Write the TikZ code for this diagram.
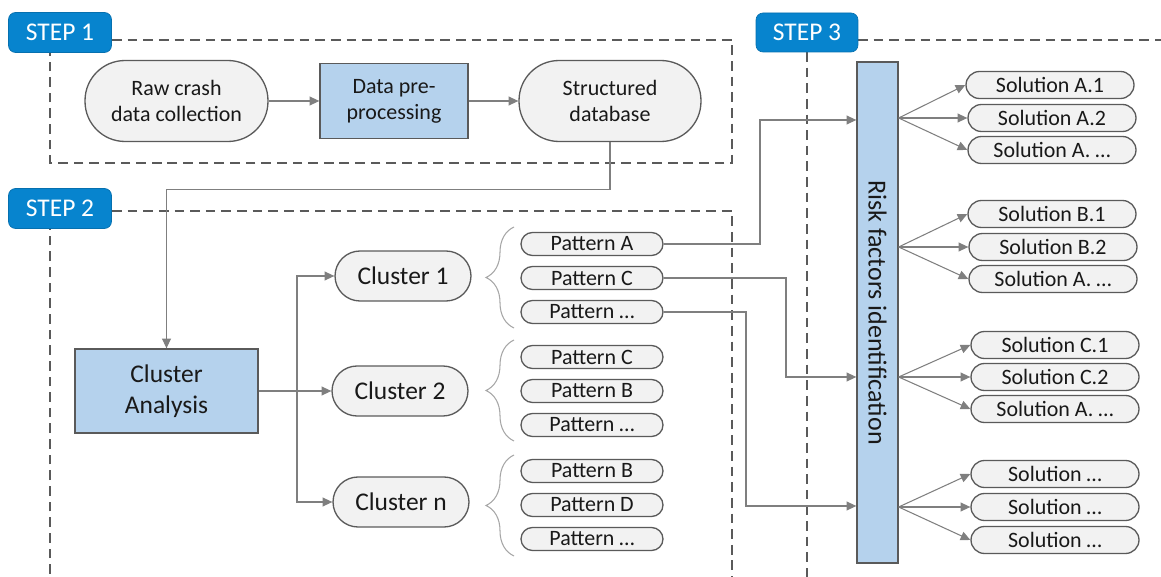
\documentclass[tikz,border=0pt]{standalone}
\usepackage{fontspec}
\setmainfont{Carlito}
\usetikzlibrary{arrows.meta, decorations.pathreplacing}
\definecolor{stepblue}{HTML}{0784CE}
\definecolor{procblue}{HTML}{B5D2ED}
\definecolor{pillgray}{HTML}{F2F2F2}
\definecolor{edgegray}{HTML}{5A5A5A}
\definecolor{linegray}{HTML}{7F7F7F}
\tikzset{
  steptag/.style={draw=stepblue!85!black, fill=stepblue, rounded corners=4pt, text=white,
                  minimum width=2.06cm, minimum height=0.8cm, inner sep=0pt,
                  font=\fontsize{14.5}{16}\selectfont},
  box/.style={draw=edgegray, line width=0.75pt, align=center, inner sep=0pt,
              text=black!90, font=\fontsize{12.5}{14.8}\selectfont},
  pill/.style={box, fill=pillgray},
  proc/.style={box, fill=procblue},
  bigpill/.style={pill, minimum width=3.66cm, minimum height=1.62cm, rounded corners=0.8cm},
  clpill/.style={pill, minimum width=2.72cm, minimum height=1cm, rounded corners=0.5cm,
                 font=\fontsize{14.5}{16}\selectfont},
  patpill/.style={pill, minimum width=2.84cm, minimum height=0.46cm, rounded corners=0.23cm},
  solpill/.style={pill, minimum width=3.36cm, minimum height=0.54cm, rounded corners=0.27cm},
  flow/.style={-{Triangle[length=5.5pt, width=5pt]}, draw=linegray, line width=0.6pt},
  plain/.style={draw=linegray, line width=0.6pt},
  frame/.style={draw=edgegray, line width=0.9pt, dash pattern=on 5.5pt off 3.4pt},
  brace/.style={draw=black!35, line width=0.6pt,
                decorate, decoration={brace, amplitude=0.56cm}},
}

\begin{document}
\begin{tikzpicture}[x=0.02cm, y=-0.02cm]
  \useasboundingbox (0,0) rectangle (1161,577);

  % ---------- step 1: data preparation ----------
  \draw[frame] (112,40) -- (732,40) -- (732,163) -- (50,163) -- (50,53);
  \node[steptag] (step1) at (60,32.5) {STEP 1};
  \node[bigpill] (raw) at (176.5,101) {Raw crash\\ data collection};
  \node[proc, minimum width=2.96cm, minimum height=1.5cm] (prep) at (394,101)
    {Data pre-\\ processing};
  \node[bigpill, minimum width=3.64cm] (db) at (610,101) {Structured\\ database};
  \draw[flow] (raw.east) -- (prep.west);
  \draw[flow] (prep.east) -- (db.west);

  % ---------- step 2: clustering ----------
  \draw[frame] (112,211) -- (732,211) -- (732,578) -- (50,578) -- (50,229);
  \node[steptag] (step2) at (60,208.5) {STEP 2};
  \node[proc, minimum width=3.66cm, minimum height=1.68cm,
        font=\fontsize{14.5}{17.5}\selectfont] (ca) at (166.5,391) {Cluster\\ Analysis};
  \draw[flow] (db.south) -- ++(0,47) -| (ca.north);

  \node[clpill] (cl1) at (403,276) {Cluster 1};
  \node[clpill] (cl2) at (400,391) {Cluster 2};
  \node[clpill] (cln) at (401,502) {Cluster n};
  \coordinate (split) at (297,391);
  \draw[plain] (ca.east) -- (split);
  \draw[flow] (split) |- (cl1.west);
  \draw[flow] (split) -- (cl2.west);
  \draw[flow] (split) |- (cln.west);

  % patterns found in each cluster
  \node[patpill] (pat11) at (592,244) {Pattern A};
  \node[patpill] (pat12) at (592,278) {Pattern C};
  \node[patpill] (pat13) at (592,312) {Pattern \dots};
  \node[patpill] (pat21) at (592,357) {Pattern C};
  \node[patpill] (pat22) at (592,391) {Pattern B};
  \node[patpill] (pat23) at (592,425) {Pattern \dots};
  \node[patpill] (pat31) at (592,471) {Pattern B};
  \node[patpill] (pat32) at (592,505) {Pattern D};
  \node[patpill] (pat33) at (592,539) {Pattern \dots};
  \draw[brace] (514,328) -- (514,227);
  \draw[brace] (514,441) -- (514,340);
  \draw[brace] (514,556) -- (514,455);

  % ---------- step 3: risk factors and solutions ----------
  \draw[frame] (858,40) -- (1170,40);
  \draw[frame] (807,52) -- (807,590);
  \node[steptag, minimum width=2.04cm, minimum height=0.78cm] (step3) at (807,32.5) {STEP 3};
  \node[proc, minimum width=0.82cm, minimum height=10.02cm] (risk) at (877.5,312.5) {};
  \node[font=\fontsize{14.8}{16}\selectfont, text=black!90, rotate=-90] (risktext)
    at (risk.center) {Risk factors identification};

  % selected patterns feed the risk factors
  \draw[flow] (pat11.east) -- (760,244) |- (risk.west |- 0,120);
  \draw[flow] (pat12.east) -- (786,278) |- (risk.west |- 0,377);
  \draw[flow] (pat13.east) -- (746,312) |- (risk.west |- 0,506);

  \node[solpill] (sol11) at (1050,85)  {Solution A.1};
  \node[solpill] (sol12) at (1052,118) {Solution A.2};
  \node[solpill] (sol13) at (1052,150) {Solution A. \dots};
  \node[solpill] (sol21) at (1052,214) {Solution B.1};
  \node[solpill] (sol22) at (1053,247) {Solution B.2};
  \node[solpill] (sol23) at (1053,279) {Solution A. \dots};
  \node[solpill] (sol31) at (1055,345) {Solution C.1};
  \node[solpill] (sol32) at (1055,377) {Solution C.2};
  \node[solpill] (sol33) at (1055,409) {Solution A. \dots};
  \node[solpill] (sol41) at (1055,474) {Solution \dots};
  \node[solpill] (sol42) at (1055,507) {Solution \dots};
  \node[solpill] (sol43) at (1055,540) {Solution \dots};

  \draw[flow] (risk.east |- sol12) -- (sol11.west);
  \draw[flow] (risk.east |- sol12) -- (sol12.west);
  \draw[flow] (risk.east |- sol12) -- (sol13.west);
  \draw[flow] (risk.east |- sol22) -- (sol21.west);
  \draw[flow] (risk.east |- sol22) -- (sol22.west);
  \draw[flow] (risk.east |- sol22) -- (sol23.west);
  \draw[flow] (risk.east |- sol32) -- (sol31.west);
  \draw[flow] (risk.east |- sol32) -- (sol32.west);
  \draw[flow] (risk.east |- sol32) -- (sol33.west);
  \draw[flow] (risk.east |- sol42) -- (sol41.west);
  \draw[flow] (risk.east |- sol42) -- (sol42.west);
  \draw[flow] (risk.east |- sol42) -- (sol43.west);

\end{tikzpicture}
\end{document}
